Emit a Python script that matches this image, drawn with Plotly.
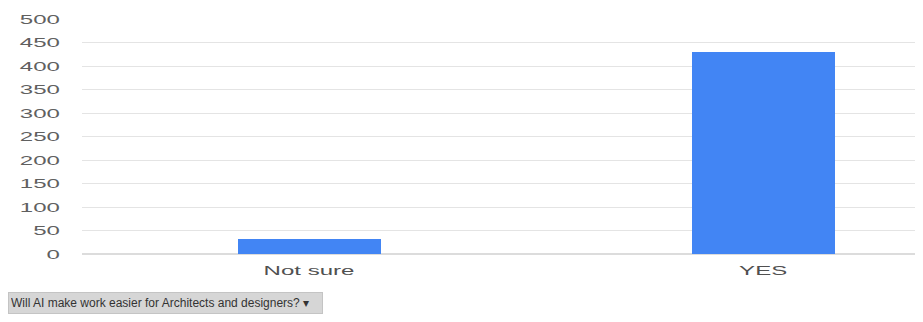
import plotly.graph_objects as go

categories = ["Not sure", "YES"]
counts = [32, 430]
y_ticks = [0, 50, 100, 150, 200, 250, 300, 350, 400, 450, 500]
selector_label = "Will AI make work easier for Architects and designers? \u25be"

# figure sits inside the page's default 8px body margin
W, H = 915, 314
L, T, B = 74, 11, 68
plot_w = W - L
plot_h = H - T - B

fig = go.Figure(
    go.Bar(
        x=categories,
        y=counts,
        marker=dict(color="#4285f4", line=dict(width=0)),
        width=0.315,
    )
)

fig.update_layout(
    width=W,
    height=H,
    margin=dict(l=L, r=0, t=T, b=B, autoexpand=False),
    paper_bgcolor="white",
    plot_bgcolor="white",
    font=dict(family="Liberation Sans, Arial, sans-serif", size=13, color="#555555"),
    showlegend=False,
    bargap=0,
    annotations=[
        dict(
            text=selector_label,
            xref="paper",
            yref="paper",
            x=(0 - L) / plot_w,
            y=(plot_h + T - 295) / plot_h,
            xanchor="left",
            yanchor="middle",
            showarrow=False,
            align="left",
            width=309,
            height=16,
            bgcolor="#d6d6d6",
            bordercolor="#c4c4c4",
            borderwidth=1,
            borderpad=2,
            font=dict(size=12, color="#333333"),
        )
    ],
)

fig.update_xaxes(
    range=[-0.5, 1.352],
    showgrid=False,
    showline=False,
    zeroline=False,
    ticks="",
    ticklabelstandoff=7,
    tickfont=dict(size=13, color="#505050"),
)
fig.update_yaxes(
    range=[0, 500],
    tickvals=y_ticks,
    showgrid=True,
    gridcolor="#e4e4e4",
    gridwidth=1,
    zeroline=True,
    zerolinecolor="#dcdcdc",
    showline=False,
    ticks="",
    ticklabelstandoff=21,
    tickfont=dict(size=13, color="#606060"),
)

# the reference's axis labels are drawn horizontally stretched; widen them in place
post = """
var s = 1.85;
document.querySelectorAll('.xtick text, .ytick text').forEach(function(el){
  var x = parseFloat(el.getAttribute('x') || '0');
  var t = el.getAttribute('transform') || '';
  el.setAttribute('transform', t + ' translate(' + x + ',0) scale(' + s + ',1) translate(' + (-x) + ',0)');
});
"""

fig.write_html("out.html", post_script=post)
